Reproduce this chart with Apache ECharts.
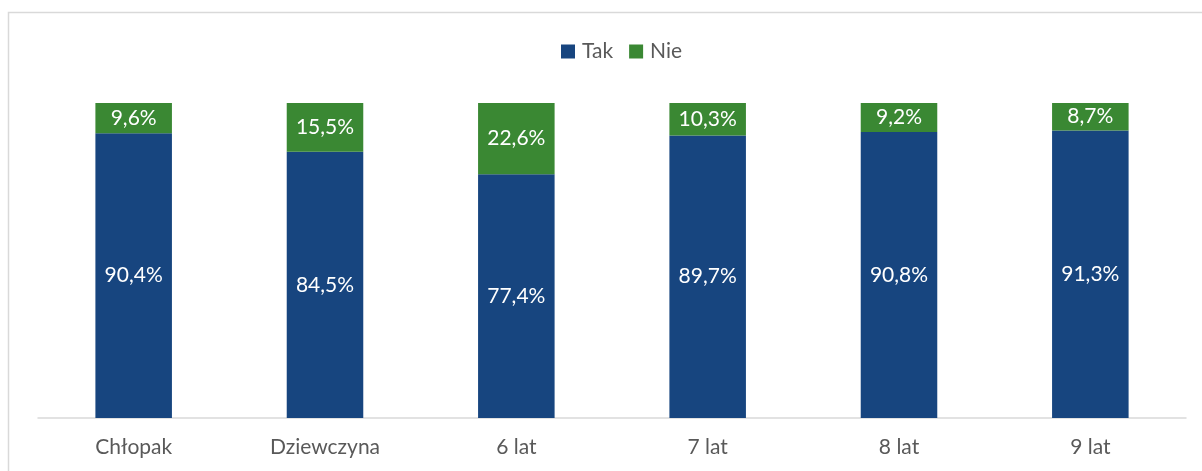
<!DOCTYPE html>
<html>
<head>
<meta charset="utf-8">
<script src="https://cdn.jsdelivr.net/npm/echarts@6/dist/echarts.min.js"></script>
<style>html,body{margin:0;padding:0;background:#fff;}#c{width:1202px;height:471px;}</style>
</head>
<body>
<div id="c"></div>
<script>
const categories = ['Chłopak', 'Dziewczyna', '6 lat', '7 lat', '8 lat', '9 lat'];
const tak = [90.4, 84.5, 77.4, 89.7, 90.8, 91.3];
const nie = [9.6, 15.5, 22.6, 10.3, 9.2, 8.7];
const seriesNames = ['Tak', 'Nie'];

const font = 'Lato, sans-serif';
const fmt = p => p.value.toFixed(1).replace('.', ',') + '%';
const chart = echarts.init(document.getElementById('c'), null, {renderer: 'canvas'});
chart.setOption({
  animation: false,
  graphic: [{type: 'rect', shape: {x: 8.5, y: 12.5, width: 1210, height: 480}, style: {fill: 'none', stroke: '#d9d9d9', lineWidth: 1.5}, silent: true}],
  legend: {
    top: 36, left: 556, itemWidth: 14, itemHeight: 14, itemGap: 16,
    icon: 'rect',
    textStyle: {color: '#595959', fontSize: 21, fontFamily: font, padding: [0, 0, 0, 2]},
    data: seriesNames
  },
  grid: {left: 38, right: 16, top: 103, bottom: 53, containLabel: false},
  xAxis: {
    type: 'category', data: categories,
    axisLine: {lineStyle: {color: '#d9d9d9', width: 1.5}},
    axisTick: {show: false},
    axisLabel: {color: '#595959', fontSize: 21, fontFamily: font, margin: 19}
  },
  yAxis: {type: 'value', min: 0, max: 100, show: false, splitLine: {show: false}},
  series: [
    {name: seriesNames[0], type: 'bar', stack: 's', data: tak, barCategoryGap: '60%',
     itemStyle: {color: '#17457F'},
     label: {show: true, position: 'inside', color: '#fff', fontSize: 21, fontFamily: font, formatter: fmt}},
    {name: seriesNames[1], type: 'bar', stack: 's', data: nie, barCategoryGap: '60%',
     itemStyle: {color: '#3A8833'},
     label: {show: true, position: 'inside', color: '#fff', fontSize: 21, fontFamily: font, formatter: fmt}}
  ]
});
</script>
</body>
</html>
